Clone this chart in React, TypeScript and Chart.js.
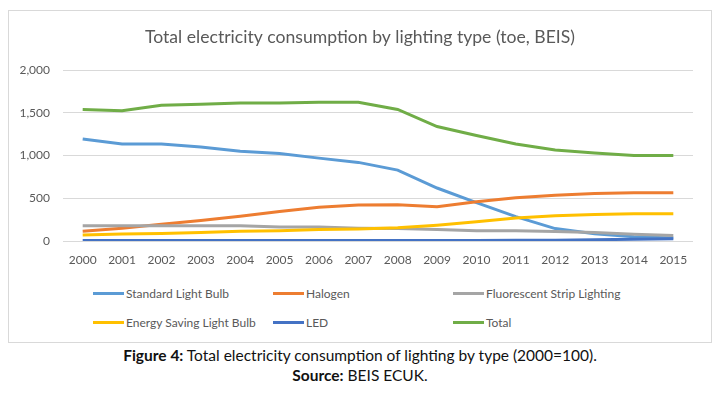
import React, { useEffect, useRef } from "react";
import { Chart, registerables } from "chart.js";

Chart.register(...registerables);

const years = ["2000","2001","2002","2003","2004","2005","2006","2007","2008","2009","2010","2011","2012","2013","2014","2015"];
const seriesNames = ["Standard Light Bulb","Halogen","Fluorescent Strip Lighting","Energy Saving Light Bulb","LED","Total"];
const seriesColors = ["#5B9BD5","#ED7D31","#A5A5A5","#FFC000","#4472C4","#70AD47"];
const standard = [1195, 1135, 1135, 1100, 1050, 1025, 970, 920, 830, 620, 450, 285, 145, 85, 50, 35];
const halogen = [115, 150, 195, 240, 290, 345, 395, 420, 425, 400, 460, 505, 535, 555, 565, 565];
const fluorescent = [178, 178, 178, 178, 178, 165, 165, 150, 145, 135, 120, 120, 110, 100, 80, 65];
const energySaving = [70, 82, 87, 100, 115, 120, 135, 140, 155, 185, 225, 270, 295, 310, 318, 318];
const led = [5, 5, 5, 5, 5, 5, 5, 5, 5, 5, 5, 8, 10, 15, 20, 25];
const total = [1540, 1525, 1590, 1600, 1615, 1615, 1625, 1625, 1540, 1340, 1235, 1135, 1065, 1030, 1000, 1000];
const seriesValues = [standard, halogen, fluorescent, energySaving, led, total];
const yTicks = [0, 500, 1000, 1500, 2000];
const titleText = "Total electricity consumption by lighting type (toe, BEIS)";

const FONT = "Lato, 'Open Sans', sans-serif";
const TEXT = "#595959";

export default function App() {
  const ref = useRef<HTMLCanvasElement | null>(null);

  useEffect(() => {
    if (!ref.current) return;
    const chart = new Chart(ref.current, {
      type: "line",
      data: {
        labels: years,
        datasets: seriesNames.map((name, i) => ({
          label: name,
          data: seriesValues[i],
          borderColor: seriesColors[i],
          backgroundColor: seriesColors[i],
          borderWidth: 3,
          pointRadius: 0,
          tension: 0,
          order: seriesNames.length - i,
        })),
      },
      options: {
        animation: false,
        responsive: false,
        maintainAspectRatio: false,
        layout: { padding: 0 },
        plugins: {
          legend: { display: false },
          tooltip: { enabled: false },
          title: {
            display: true,
            text: titleText,
            color: TEXT,
            font: { family: FONT, size: 17.6, weight: "normal" },
            padding: { top: 16, bottom: 22 },
          },
        },
        scales: {
          x: {
            type: "category",
            offset: true,
            grid: { display: false, drawTicks: false },
            border: { display: false },
            ticks: {
              color: TEXT,
              font: { family: FONT, size: 12 },
              padding: 12,
              maxRotation: 0,
              autoSkip: false,
            },
            afterFit: (s: any) => { s.height = 40; },
          },
          y: {
            min: 0,
            max: 2000,
            grid: { color: "#d9d9d9", lineWidth: 1, drawTicks: false },
            border: { display: false },
            afterBuildTicks: (s: any) => { s.ticks = yTicks.map((v) => ({ value: v })); },
            ticks: {
              color: TEXT,
              font: { family: FONT, size: 12 },
              padding: 13,
              callback: (v: any) => Number(v).toLocaleString("en-US"),
            },
            afterFit: (s: any) => { s.width = 54; },
          },
          yRight: {
            position: "right",
            display: true,
            min: 0,
            max: 2000,
            grid: { display: false, drawTicks: false },
            border: { display: false },
            ticks: { display: false },
            afterFit: (s: any) => { s.width = 18; },
          },
        },
      },
    });
    return () => chart.destroy();
  }, []);

  const legendCols = [93, 273, 453];
  const legendRows = [293, 322];

  return (
    <div style={{ paddingTop: 2, fontFamily: FONT }}>
      <div
        style={{
          position: "relative",
          width: 704,
          height: 333,
          boxSizing: "border-box",
          border: "1px solid #d9d9d9",
          background: "#fff",
        }}
      >
        <canvas ref={ref} width={702} height={270} style={{ display: "block" }} />
        {seriesNames.map((name, i) => {
          const col = i % 3;
          const row = Math.floor(i / 3);
          const left = legendCols[col] - 9;
          const top = legendRows[row] - 11;
          return (
            <div
              key={name}
              style={{
                position: "absolute",
                left,
                top: top - 8,
                height: 16,
                display: "flex",
                alignItems: "center",
                whiteSpace: "nowrap",
              }}
            >
              <span style={{ display: "inline-block", width: 31, height: 3, background: seriesColors[i], marginRight: 2 }} />
              <span style={{ color: TEXT, fontSize: 12 }}>{name}</span>
            </div>
          );
        })}
      </div>
      <div style={{ width: 704, textAlign: "center", color: "#111", fontSize: 15.5, marginTop: 2, lineHeight: "20px" }}>
        <div><b>Figure 4:</b> Total electricity consumption of lighting by type (2000=100).</div>
        <div><b>Source:</b> BEIS ECUK.</div>
      </div>
    </div>
  );
}
